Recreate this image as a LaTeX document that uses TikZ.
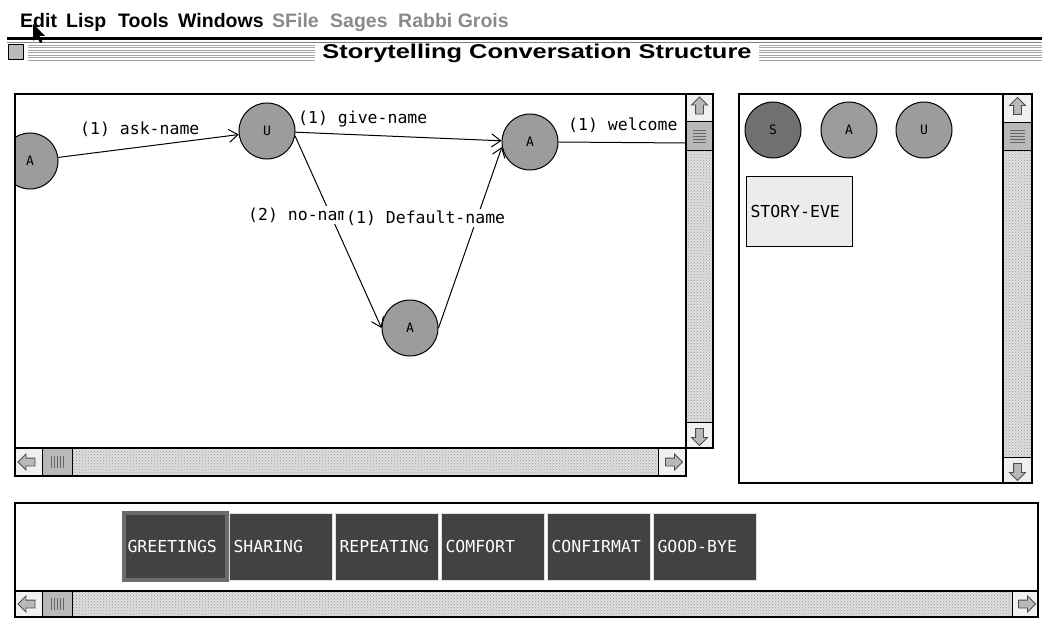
\documentclass[tikz,border=0pt]{standalone}
\usepackage{fontspec}
\newfontfamily\menufont{Liberation Sans}
\newfontfamily\genevafont{DejaVu Sans Mono}
\usepackage{tikz}
\usetikzlibrary{shapes, arrows.meta, positioning, patterns}

\definecolor{stategray}{HTML}{9C9C9C}
\definecolor{darkstate}{HTML}{707070}
\definecolor{tabgray}{HTML}{424242}
\definecolor{selgray}{HTML}{6C6C6C}
\definecolor{menugray}{HTML}{8A8A8A}

\begin{document}
\begin{tikzpicture}[
            x=1pt, y=-1pt,
            % MENU AND TITLE
            menuitem/.style={anchor=base west, inner sep=0pt, font=\menufont\bfseries\fontsize{19.5}{19.5}\selectfont},
            titletext/.style={fill=white, inner xsep=7pt, inner ysep=1pt, font=\menufont\bfseries\fontsize{20}{20}\selectfont},
            % GRAPH
            state/.style={
                draw, circle, 
                minimum size=56pt, 
                inner sep=0pt, 
                line width=1pt,
                fill=stategray,
                font=\genevafont\fontsize{13}{13}\selectfont
            },
            edgelabel/.style={anchor=west, fill=white, inner sep=2pt, font=\genevafont\fontsize{16.5}{17}\selectfont},
            arrow/.style={-{Straight Barb[length=9pt,width=13pt]}, line width=1pt},
            % PALETTE AND TABS
            eventbox/.style={
                draw, rectangle, 
                line width=1pt,
                minimum width=106pt, 
                minimum height=70pt, 
                fill=gray!15,
                text width=98pt, align=left,
                font=\genevafont\fontsize{16.5}{17}\selectfont
            },
            tab/.style={
                draw=gray!25, rectangle, 
                line width=1pt,
                outer sep=0pt,
                minimum width=103pt, 
                minimum height=67pt, 
                fill=tabgray,
                text=white,
                inner sep=4pt,
                text width=95pt, align=left,
                font=\genevafont\fontsize{16.5}{17}\selectfont
            },
            selected/.style={draw=selgray, line width=4pt},
            % SCROLL BARS
            pane/.style={draw, line width=1.5pt},
            trough/.style={draw, line width=1pt, preaction={fill=gray!25}, pattern=crosshatch dots, pattern color=gray!80},
            arrowbox/.style={draw, line width=1pt, fill=gray!12},
            thumb/.style={draw, line width=1pt, fill=gray!55},
            scrollarrow/.style={single arrow, draw=black!70, fill=gray!55, line width=0.8pt, minimum height=17pt, inner sep=3.5pt, single arrow head extend=4pt}
        ]
        \useasboundingbox (0,0) rectangle (1042,642);
    
        % Menu bar
        \foreach \x/\t/\c [count=\i] in {20/Edit/black, 66/Lisp/black, 118/Tools/black, 178/Windows/black,
                272/SFile/menugray, 330/Sages/menugray, 398/Rabbi Grois/menugray}
            \node[menuitem, text=\c] (menu\i) at (\x,28) {\t};
        \fill[black] (7,37) rectangle (1042,40.5);
        \draw[gray, line width=1pt] (7,42.5) -- (1042,42.5);
        % pointer
        \fill[black] (33,24) -- (33,41) -- (37,37) -- (40,43) -- (42.5,42) -- (39.5,36) -- (45,36) -- cycle;
    
        % Title bar
        \foreach \y in {45.5,48,50.5,53,55.5,58,60.5}
            \draw[gray!70, line width=1pt] (28,\y) -- (1042,\y);
        \draw[line width=1pt, fill=gray!55] (8,45) rectangle (23,60);
        \node[titletext] (title) at (537,53) {\scalebox{1.27}[1]{Storytelling Conversation Structure}};
    
        % Graph pane
        \draw[pane, fill=white] (15,94) rectangle (686,448);
        \begin{scope}
            \clip (15,94) rectangle (686,448);
            \node[state] (a1) at (30,161) {A};
            \node[state] (u) at (267,131) {U};
            \node[state] (a2) at (530,142) {A};
            \node[state] (a3) at (410,328) {A};
            \coordinate (offright) at (686,143);
    
            \draw[arrow] (a1) -- (u);
            \draw[arrow] (u) -- (a2);
            \draw[arrow] (u.-10) -- (a3.west);
            \draw[arrow] (a3.east) -- (a2.190);
            \draw[line width=1pt] (a2.east) -- (offright);
    
            \node[edgelabel] (lblask) at (78,129) {(1) ask-name};
            \node[edgelabel] (lblgive) at (296,119) {(1) give-name};
            \node[edgelabel] (lblnoname) at (246,215) {(2) no-nam};
            \node[edgelabel] (lbldefault) at (344,218) {(1) Default-name};
            \node[edgelabel] (lblwelcome) at (566,125) {(1) welcome};
        \end{scope}
    
        % Graph pane scroll bars
        \draw[arrowbox] (686,94) rectangle (713,121);
        \node[scrollarrow, shape border rotate=90] (gup) at (699.5,107.5) {};
        \draw[thumb] (686,121) rectangle (713,150);
        \foreach \y in {130,133,136,139,142}
            \draw[black!60, line width=0.8pt] (693,\y) -- (706,\y);
        \draw[trough] (686,150) rectangle (713,422);
        \draw[arrowbox] (686,422) rectangle (713,448);
        \node[scrollarrow, shape border rotate=270] (gdown) at (699.5,435) {};
        \draw[arrowbox] (15,448) rectangle (42,476);
        \node[scrollarrow, shape border rotate=180] (gleft) at (28.5,462) {};
        \draw[thumb] (42,448) rectangle (72,476);
        \foreach \x in {51,54,57,60,63}
            \draw[black!60, line width=0.8pt] (\x,456) -- (\x,468);
        \draw[trough] (72,448) rectangle (658,476);
        \draw[arrowbox] (658,448) rectangle (686,476);
        \node[scrollarrow] (gright) at (672,462) {};
        \draw[pane] (15,94) -- (713,94) -- (713,448) -- (686,448) -- (686,476) -- (15,476) -- cycle;
    
        % Palette pane
        \draw[pane, fill=white] (739,94) rectangle (1003,483);
        \node[state, fill=darkstate] (palS) at (773,130) {S};
        \node[state, right=19pt of palS] (palA) {A};
        \node[state, right=18pt of palA] (palU) {U};
        \node[eventbox, anchor=north west] (storyev) at (746,176) {STORY-EVE\\[10pt]};
        \draw[arrowbox] (1003,94) rectangle (1032,122);
        \node[scrollarrow, shape border rotate=90] (pup) at (1017.5,108) {};
        \draw[thumb] (1003,122) rectangle (1032,150);
        \foreach \y in {130,133,136,139,142}
            \draw[black!60, line width=0.8pt] (1010,\y) -- (1025,\y);
        \draw[trough] (1003,150) rectangle (1032,457);
        \draw[arrowbox] (1003,457) rectangle (1032,483);
        \node[scrollarrow, shape border rotate=270] (pdown) at (1017.5,470) {};
        \draw[pane] (739,94) rectangle (1032,483);
    
        % Phase tabs
        \draw[pane, fill=white] (15,503) rectangle (1038,591);
        \node[tab, selected] (greet) at (175,546.5) {GREETINGS};
        \node[tab, right=3pt of greet] (share) {SHARING};
        \node[tab, right=3pt of share] (repeat) {REPEATING};
        \node[tab, right=3pt of repeat] (comfort) {COMFORT};
        \node[tab, right=3pt of comfort] (confirm) {CONFIRMAT};
        \node[tab, right=3pt of confirm] (goodbye) {GOOD-BYE};
        \draw[arrowbox] (15,591) rectangle (42,617);
        \node[scrollarrow, shape border rotate=180] (tleft) at (28.5,604) {};
        \draw[thumb] (42,591) rectangle (72,617);
        \foreach \x in {51,54,57,60,63}
            \draw[black!60, line width=0.8pt] (\x,598) -- (\x,610);
        \draw[trough] (72,591) rectangle (1012,617);
        \draw[arrowbox] (1012,591) rectangle (1038,617);
        \node[scrollarrow] (tright) at (1025,604) {};
        \draw[pane] (15,503) rectangle (1038,617);
    
        \end{tikzpicture}
\end{document}
